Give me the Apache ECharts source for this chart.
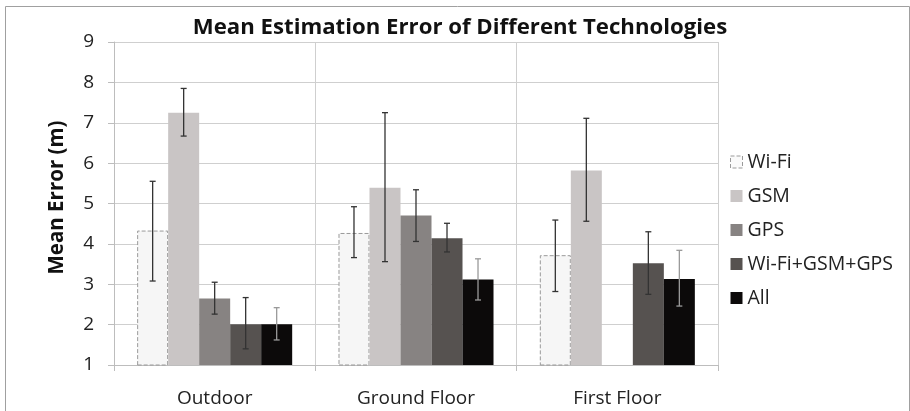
<!DOCTYPE html>
<html>
<head>
<meta charset="utf-8">
<script src="https://cdn.jsdelivr.net/npm/echarts@6/dist/echarts.min.js"></script>
<style>
  html, body { margin: 0; padding: 0; background: #fff; }
  #chart { width: 910px; height: 411px; }
</style>
</head>
<body>
<div id="chart"></div>
<script>
// Locations along the x axis
const categories = ['Outdoor', 'Ground Floor', 'First Floor'];

// Technologies (one bar series each)
const seriesNames = ['Wi-Fi', 'GSM', 'GPS', 'Wi-Fi+GSM+GPS', 'All'];

// Mean error (m) per technology, per location
const wifiMean = [4.33, 4.27, 3.72];
const gsmMean = [7.25, 5.39, 5.82];
const gpsMean = [2.65, 4.70, null];
const comboMean = [2.01, 4.14, 3.52];
const allMean = [2.01, 3.12, 3.13];

// Error bar extents (low, high) per technology, per location
const wifiErr = [[3.08, 5.55], [3.66, 4.92], [2.82, 4.59]];
const gsmErr = [[6.67, 7.85], [3.56, 7.25], [4.56, 7.11]];
const gpsErr = [[2.26, 3.05], [4.06, 5.34], null];
const comboErr = [[1.40, 2.67], [3.80, 4.51], [2.75, 4.30]];
const allErr = [[1.62, 2.42], [2.61, 3.63], [2.46, 3.84]];

// Y axis range
const yMin = 1, yMax = 9, yStep = 1;

const means = [wifiMean, gsmMean, gpsMean, comboMean, allMean];
const errs = [wifiErr, gsmErr, gpsErr, comboErr, allErr];
const fills = ['#f6f6f6', '#c9c5c5', '#878382', '#565250', '#0c0a0a'];
const whiskerColors = ['#333', '#333', '#333', '#333', '#9a9a9a'];
const CATEGORY_GAP = 0.23;
const FONT = '"Open Sans", "Liberation Sans", sans-serif';

const chart = echarts.init(document.getElementById('chart'));

const barSeries = seriesNames.map((name, i) => ({
  name: name,
  type: 'bar',
  data: means[i],
  barGap: '0%',
  barCategoryGap: (CATEGORY_GAP * 100) + '%',
  itemStyle: i === 0
    ? { color: fills[i], borderColor: '#9a9a9a', borderWidth: 1, borderType: 'dashed' }
    : { color: fills[i] },
  emphasis: { disabled: true },
  z: 2
}));

// Whisker data: [categoryIndex, seriesIndex, low, high]
const whiskerData = [];
errs.forEach((list, s) => {
  list.forEach((e, c) => {
    if (e) whiskerData.push([c, s, e[0], e[1]]);
  });
});

const whiskerSeries = {
  type: 'custom',
  name: 'errors',
  data: whiskerData,
  z: 5,
  silent: true,
  renderItem: function (params, api) {
    const c = api.value(0);
    const s = api.value(1);
    const catWidth = api.size([1, 0])[0];
    const groupWidth = catWidth * (1 - CATEGORY_GAP);
    const barWidth = groupWidth / seriesNames.length;
    const top = api.coord([c, api.value(3)]);
    const bottom = api.coord([c, api.value(2)]);
    const x = top[0] - groupWidth / 2 + barWidth * (s + 0.5);
    const cap = 3;
    const stroke = { stroke: whiskerColors[s], lineWidth: 1.3 };
    return {
      type: 'group',
      children: [
        { type: 'line', shape: { x1: x, y1: top[1], x2: x, y2: bottom[1] }, style: stroke },
        { type: 'line', shape: { x1: x - cap, y1: top[1], x2: x + cap, y2: top[1] }, style: stroke },
        { type: 'line', shape: { x1: x - cap, y1: bottom[1], x2: x + cap, y2: bottom[1] }, style: stroke }
      ]
    };
  }
};

chart.setOption({
  animation: false,
  backgroundColor: '#fff',
  title: {
    text: 'Mean Estimation Error of Different Technologies',
    left: 455,
    textAlign: 'center',
    top: 12,
    textStyle: { fontFamily: FONT, fontSize: 22.2, fontWeight: 'bold', color: '#111' }
  },
  grid: { left: 114, right: 192, top: 42, bottom: 46 },
  legend: {
    orient: 'vertical',
    left: 730,
    top: 152,
    padding: 0,
    itemWidth: 12,
    itemHeight: 12,
    itemGap: 14,
    textStyle: { fontFamily: FONT, fontSize: 19.5, color: '#222' },
    data: seriesNames.map((n, i) => ({
      name: n,
      icon: 'rect',
      itemStyle: i === 0
        ? { color: '#fafafa', borderColor: '#9a9a9a', borderWidth: 1, borderType: 'dashed' }
        : { color: fills[i], borderWidth: 0 }
    }))
  },
  xAxis: {
    type: 'category',
    data: categories,
    boundaryGap: true,
    axisLine: { lineStyle: { color: '#bdbdbd' } },
    axisTick: { show: true, length: 6, lineStyle: { color: '#bdbdbd' } },
    splitLine: { show: true, lineStyle: { color: '#cfcfcf' } },
    axisLabel: { fontFamily: FONT, fontSize: 19, color: '#222', margin: 24 }
  },
  yAxis: {
    type: 'value',
    min: yMin,
    max: yMax,
    interval: yStep,
    name: 'Mean Error (m)',
    nameLocation: 'middle',
    nameGap: 46,
    nameTextStyle: { fontFamily: FONT, fontSize: 20.5, fontWeight: 'bold', color: '#111', padding: [0, 0, 0, 12] },
    axisLine: { show: true, lineStyle: { color: '#bdbdbd' } },
    axisTick: { show: true, length: 6, lineStyle: { color: '#bdbdbd' } },
    splitLine: { show: true, lineStyle: { color: '#cfcfcf' } },
    axisLabel: { fontFamily: FONT, fontSize: 19, color: '#222', margin: 20 }
  },
  graphic: [{
    type: 'rect',
    left: 3, top: 4,
    shape: { width: 904, height: 405 },
    style: { fill: 'none', stroke: '#a0a0a0', lineWidth: 1 },
    silent: true
  }],
  series: barSeries.concat([whiskerSeries])
});
</script>
</body>
</html>
